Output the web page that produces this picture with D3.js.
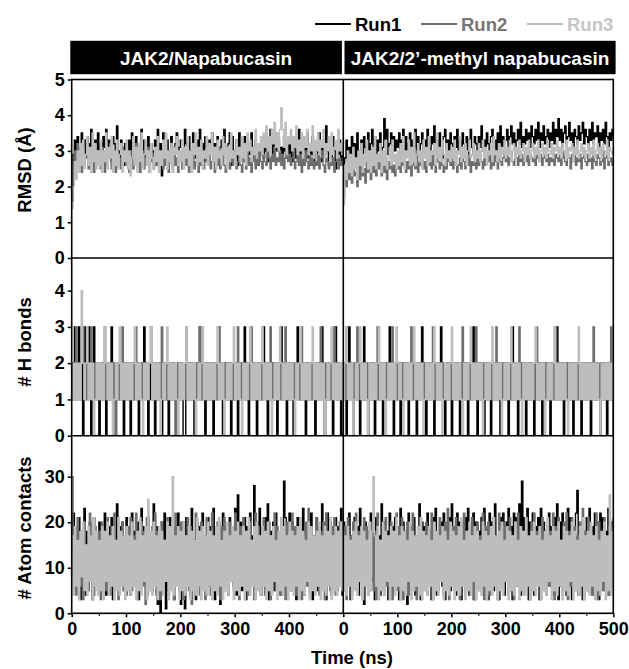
<!doctype html>
<html>
  <head>
    <script src="https://cdnjs.cloudflare.com/ajax/libs/d3/7.8.5/d3.min.js" type="text/JavaScript"></script>
    <style>
      body { margin: 0; background: #fff; }
      text { font-family: "Liberation Sans", Arial, sans-serif; font-weight: bold; }
    </style>
  </head>
  <body>
    <svg width="629" height="669"></svg>
    <script>
        // sampling interval of every trajectory below (ns)
        var STEP_NS = 2.5;

        var systems = ["JAK2/Napabucasin", "JAK2/2\u2019-methyl napabucasin"];
        var runs = ["Run1", "Run2", "Run3"];
        var xTicks = [0, 100, 200, 300, 400, 500];
        var xMinorTicks = [50, 150, 250, 350, 450];
        var rmsdTicks = [0, 1, 2, 3, 4, 5];
        var hbondTicks = [0, 1, 2, 3, 4];
        var contactTicks = [0, 10, 20, 30];

        // ---- RMSD (Å), JAK2/Napabucasin
        var rmsdNapRun1 = [
          1.6,2.9,3.3,2.8,3.4,3.1,2.7,3.5,3.0,3.3,2.8,3.4,3.2,2.9,3.6,3.1,2.8,3.3,3.0,3.5,
          2.9,3.2,2.7,3.4,3.1,3.6,2.8,3.3,3.0,2.7,3.4,3.2,2.9,3.7,3.0,2.8,3.3,3.1,2.6,3.2,
          3.0,2.7,3.3,2.9,3.5,3.1,2.8,3.4,2.6,3.2,3.0,3.6,2.9,3.3,2.7,3.1,3.4,2.8,3.2,3.0,
          2.7,3.3,3.0,3.6,2.8,3.2,2.3,3.5,3.1,2.6,3.3,3.0,2.8,3.4,3.1,2.7,3.2,3.5,2.9,3.1,
          3.3,2.8,3.0,3.6,3.2,2.7,3.4,3.0,2.9,3.5,3.1,2.8,3.3,3.0,3.6,2.9,3.2,2.7,3.4,3.1,
          2.9,3.3,3.0,3.5,2.8,3.2,3.0,3.4,2.7,3.1,3.3,2.9,3.6,3.0,2.8,3.2,3.5,2.6,3.4,3.0,
          2.7,3.3,2.6,3.5,2.8,3.1,2.9,3.4,3.0,2.7,3.2,2.9,3.5,3.1,2.8,3.3,3.0,2.6,3.2,2.9,
          3.1,2.8,3.4,3.0,2.7,3.3,3.6,2.9,3.2,2.8,3.5,3.0,3.3,2.7,3.1,2.9,3.4,3.0,2.8,3.2,
          2.9,3.3,2.7,3.1,3.4,2.8,3.0,3.6,2.9,3.2,2.7,3.3,3.0,3.5,2.8,3.1,2.9,3.4,2.6,3.2,
          3.0,2.8,3.5,3.1,2.7,3.3,2.9,3.7,3.0,2.6,3.2,2.8,3.4,3.0,2.5,3.1,2.9,3.3,2.7,3.0,
          2.8];
        var rmsdNapRun2 = [
          1.8,2.6,3.0,2.5,3.2,2.7,2.9,2.4,3.1,2.6,2.8,3.3,2.5,2.9,2.7,3.1,2.4,2.8,3.0,2.6,
          2.9,2.5,3.1,2.7,2.4,3.0,2.6,2.8,3.2,2.5,2.7,2.9,2.4,3.0,2.6,2.8,2.5,3.1,2.7,2.9,
          2.6,2.9,2.4,2.8,3.0,2.5,2.7,3.2,2.6,2.9,2.4,2.7,3.0,2.5,2.8,2.6,3.1,2.4,2.7,2.9,
          2.5,2.8,2.6,3.0,2.4,2.7,2.9,2.5,3.1,2.6,2.8,2.4,2.7,3.0,2.5,2.9,2.6,2.8,2.4,2.7,
          2.9,2.5,2.7,3.0,2.6,2.8,2.4,2.9,2.6,3.1,2.5,2.7,2.8,2.4,3.0,2.6,2.9,2.5,2.7,2.8,
          2.6,3.0,2.5,2.7,2.9,2.4,2.8,2.6,3.1,2.5,2.7,2.9,2.6,2.4,2.8,3.0,2.5,2.7,2.9,2.6,
          2.8,2.5,2.7,3.0,2.6,2.4,2.9,2.7,2.5,3.1,2.6,2.8,2.4,2.7,2.9,2.5,2.8,2.6,3.0,2.7,
          2.5,2.9,2.7,2.6,3.0,2.8,2.5,2.9,2.7,3.1,2.6,2.8,2.7,3.0,2.6,2.9,2.5,2.8,3.0,2.7,
          2.9,2.6,2.8,3.1,2.5,2.7,3.0,2.6,2.9,2.4,2.8,2.6,3.0,2.7,2.5,2.9,2.6,2.8,2.5,2.7,
          2.6,2.9,2.5,2.8,3.0,2.6,2.4,2.8,2.7,2.5,2.9,2.6,2.8,2.4,2.7,2.9,2.5,2.8,2.6,2.7,
          2.6];
        var rmsdNapRun3 = [
          1.4,2.0,2.7,2.2,3.0,2.4,3.2,2.6,3.3,2.5,2.9,3.4,2.6,3.1,2.4,3.5,2.7,3.2,2.5,3.0,
          2.6,3.3,2.4,3.0,2.7,3.5,2.5,3.1,2.8,3.4,2.4,3.0,2.6,3.3,2.5,2.9,3.2,2.4,3.0,2.7,
          3.3,2.5,3.0,2.3,2.8,3.4,2.6,3.1,2.4,3.2,2.7,3.5,2.5,2.9,3.3,2.6,3.0,2.4,3.2,2.8,
          2.5,3.1,2.7,3.4,2.4,3.0,2.6,3.3,2.8,3.5,2.5,3.0,2.7,3.2,2.4,3.1,2.9,3.4,2.6,3.0,
          2.7,3.3,2.5,3.1,2.8,3.4,2.6,3.0,2.4,3.2,2.9,3.5,2.6,3.1,2.7,3.3,2.5,3.0,2.8,3.4,
          2.6,3.2,2.9,3.5,2.7,3.1,2.5,3.3,2.8,3.0,2.6,3.4,2.9,3.2,2.5,3.1,2.7,3.5,2.8,3.0,
          2.6,3.3,2.9,3.1,2.7,3.4,2.8,3.2,2.6,3.5,3.0,3.3,2.7,3.1,2.9,3.6,2.8,3.2,3.0,3.4,
          2.9,3.5,3.1,3.7,3.0,3.4,2.9,3.6,3.2,3.8,3.1,3.5,3.0,3.6,4.2,3.6,3.1,3.8,2.9,3.4,
          3.2,3.6,3.0,3.4,3.1,3.7,2.9,3.3,3.0,3.5,2.8,3.4,3.1,3.6,2.9,3.2,3.0,3.7,2.8,3.3,
          3.0,3.5,2.9,3.3,3.1,3.6,2.8,3.2,3.0,3.4,2.7,3.5,2.9,3.1,3.3,2.8,3.6,3.0,3.2,2.9,
          3.1];

        // ---- RMSD (Å), JAK2/2'-methyl napabucasin
        var rmsdMetRun1 = [
          2.2,2.8,3.3,2.7,3.1,2.6,3.4,2.9,3.2,2.7,3.5,3.0,2.8,3.3,2.6,3.4,3.1,2.9,3.5,2.8,
          3.2,3.6,2.9,3.4,2.8,3.3,3.0,3.5,2.7,3.1,3.9,3.3,3.6,2.9,3.2,3.5,2.8,3.4,3.0,3.3,
          3.1,3.5,2.8,3.3,3.6,3.0,3.4,2.9,3.2,3.5,2.8,3.3,3.1,3.6,2.9,3.4,3.0,3.2,3.5,2.9,
          3.3,3.0,3.6,3.1,2.8,3.4,3.2,3.7,2.9,3.3,3.0,3.5,3.1,2.8,3.4,3.6,3.0,3.3,2.9,3.5,
          3.2,2.9,3.4,3.1,3.6,3.0,3.3,2.8,3.5,3.2,3.0,3.4,2.9,3.3,3.6,3.1,2.9,3.4,3.2,3.0,
          3.4,3.1,3.7,3.0,3.3,2.9,3.5,3.2,3.0,3.4,3.6,3.1,3.3,2.9,3.5,3.2,3.7,3.0,3.4,3.1,
          3.3,3.6,3.1,3.4,3.7,3.2,3.5,3.0,3.3,3.6,3.2,3.8,3.1,3.4,3.2,3.6,3.3,3.5,3.1,3.7,
          3.4,3.2,3.6,3.3,3.8,3.1,3.5,3.3,3.7,3.2,3.4,3.6,3.1,3.5,3.3,3.8,3.2,3.6,3.4,3.9,
          3.3,3.6,3.1,3.5,3.7,3.2,3.4,3.8,3.3,3.5,3.1,3.6,3.4,3.2,3.7,3.3,3.5,3.8,3.2,3.6,
          3.4,3.1,3.6,3.3,3.8,3.2,3.5,3.4,3.7,3.1,3.5,3.3,3.6,3.2,3.8,3.4,3.1,3.5,3.3,3.6,
          3.4];
        var rmsdMetRun2 = [
          1.7,2.3,2.0,2.6,2.2,2.5,2.1,2.7,2.3,2.4,2.0,2.6,2.2,2.8,2.3,2.5,2.1,2.7,2.4,2.6,
          2.2,2.8,2.4,2.6,2.3,2.9,2.5,2.7,2.3,2.6,2.4,2.8,2.2,2.7,2.5,2.9,2.4,2.6,2.3,2.8,
          2.5,2.7,2.4,3.0,2.6,2.8,2.4,2.7,2.5,2.9,2.3,2.6,2.8,2.5,3.0,2.4,2.7,2.6,2.9,2.5,
          2.7,2.4,2.9,2.6,2.8,2.5,3.0,2.6,2.4,2.8,2.7,2.5,2.9,2.6,2.4,2.8,2.5,3.0,2.7,2.6,
          2.8,2.5,2.7,2.9,2.4,2.6,2.8,2.5,3.0,2.7,2.5,2.8,2.6,2.9,2.4,2.7,2.6,2.9,2.5,2.8,
          2.6,2.9,2.7,2.5,3.0,2.6,2.8,2.7,2.9,2.5,2.8,2.6,3.0,2.7,2.5,2.9,2.7,2.6,2.8,3.0,
          2.7,2.9,2.6,2.8,3.0,2.7,2.6,2.9,2.8,2.6,3.0,2.7,2.9,2.6,2.8,2.7,3.0,2.6,2.9,2.8,
          2.7,2.9,2.6,3.0,2.8,2.7,2.9,2.6,2.8,3.0,2.7,2.9,2.6,2.8,2.7,3.0,2.6,2.9,2.8,2.7,
          2.9,2.6,2.8,3.0,2.7,2.6,2.9,2.8,2.5,2.9,2.7,3.0,2.6,2.8,2.7,2.9,2.5,2.8,3.0,2.7,
          2.6,2.9,2.7,2.8,2.5,3.0,2.7,2.6,2.9,2.8,2.6,2.7,3.0,2.5,2.8,2.9,2.6,2.7,2.8,2.6,
          2.7];
        var rmsdMetRun3 = [
          1.5,2.6,2.2,3.0,2.4,2.9,2.3,3.1,2.5,2.8,2.2,3.0,2.6,3.2,2.4,2.9,2.7,3.3,2.5,3.0,
          2.4,3.1,2.6,3.4,2.5,2.9,2.7,3.2,2.4,3.0,2.6,3.3,2.5,2.8,3.1,2.6,3.3,2.7,2.9,2.5,
          3.0,2.6,3.2,2.7,3.4,2.5,3.0,2.8,3.3,2.6,3.1,2.7,3.5,2.6,2.9,3.2,2.7,3.0,2.5,3.3,
          2.8,3.1,2.6,3.4,2.7,3.0,2.9,3.2,2.6,3.5,2.8,3.1,2.7,3.3,2.9,2.6,3.2,2.8,3.0,2.7,
          3.1,2.8,3.3,2.6,3.0,2.9,3.4,2.7,3.1,2.8,3.2,2.6,3.0,3.3,2.8,2.9,3.2,2.7,3.0,2.8,
          3.2,2.7,3.0,3.3,2.8,3.1,2.6,3.0,2.9,3.2,2.7,3.4,2.9,3.0,2.7,3.2,2.8,3.1,2.9,3.3,
          2.8,3.1,2.9,3.3,2.7,3.0,3.2,2.8,3.1,2.9,3.3,2.8,3.0,3.2,2.7,3.1,2.9,3.3,2.8,3.0,
          3.2,2.8,3.1,2.9,3.3,2.7,3.0,3.2,2.9,3.1,2.8,3.3,3.0,2.9,3.2,2.8,3.1,3.0,3.3,2.9,
          3.1,2.8,3.2,3.0,2.9,3.3,2.8,3.1,3.0,3.2,2.7,3.1,2.9,3.3,2.8,3.0,3.2,2.9,3.1,2.8,
          3.0,3.2,2.8,3.1,2.9,3.3,2.8,3.0,3.2,2.9,3.1,2.8,3.2,3.0,2.9,3.3,2.8,3.1,3.0,2.9,
          3.0];

        // ---- # H bonds, JAK2/Napabucasin
        var hbondNapRun1 = [
          2,1,3,1,2,3,1,2,0,3,1,2,3,1,0,2,3,1,2,1,
          0,1,2,1,2,0,1,2,1,3,1,2,0,1,2,1,2,1,0,2,
          1,2,1,0,2,1,2,1,2,0,1,2,1,3,2,1,0,2,1,2,
          1,0,2,1,2,1,0,1,2,1,2,0,1,2,1,2,1,0,2,1,
          2,1,0,0,1,2,1,2,1,2,0,1,2,1,3,1,2,1,0,2,
          1,2,1,2,0,1,2,1,3,2,1,0,2,1,2,1,2,0,1,2,
          1,2,0,1,2,1,2,3,1,2,0,1,2,1,2,1,0,2,1,2,
          1,3,2,1,0,2,1,2,1,2,1,0,2,1,3,1,2,1,0,1,
          2,1,2,0,1,2,3,1,2,1,2,1,0,2,1,2,1,2,1,0,
          2,1,2,1,3,2,0,1,2,1,2,1,0,2,3,1,2,1,0,2,
          1];
        var hbondNapRun2 = [
          2,1,2,3,1,2,1,2,3,1,2,1,2,1,3,2,1,2,1,2,
          1,2,1,2,3,1,2,1,2,1,2,1,0,2,1,2,1,3,2,1,
          2,1,2,1,2,1,2,3,1,2,1,2,1,2,1,2,1,2,3,1,
          2,1,2,1,2,1,3,2,1,2,1,2,1,2,1,2,0,1,2,1,
          2,1,2,1,3,2,1,2,1,2,1,2,1,2,3,1,2,1,2,1,
          2,1,2,1,2,1,2,1,3,2,1,2,1,2,1,2,1,2,1,2,
          1,2,3,1,2,1,2,1,2,1,2,1,3,2,1,2,1,2,1,2,
          1,2,1,2,1,2,3,1,2,1,2,1,2,1,2,1,2,3,1,2,
          1,2,1,2,1,2,1,2,1,3,2,1,2,1,2,1,2,1,2,1,
          2,1,2,3,1,2,1,2,1,2,1,2,1,3,2,1,2,1,2,1,
          2];
        var hbondNapRun3 = [
          1,2,1,2,1,2,1,4,2,1,2,3,1,2,1,2,0,1,2,1,
          2,1,2,1,3,2,1,2,1,2,0,1,2,1,2,3,1,2,1,2,
          1,2,1,2,1,2,3,1,2,1,2,1,0,2,1,2,1,2,3,1,
          2,1,2,1,2,0,1,2,1,2,3,1,2,1,2,1,2,1,0,2,
          1,2,1,2,3,1,2,1,2,1,2,0,1,2,1,2,3,1,2,1,
          2,1,2,1,2,1,2,3,1,2,1,2,0,1,2,1,2,1,2,3,
          1,2,1,2,1,0,2,1,2,1,2,3,1,2,1,2,1,2,1,2,
          3,1,2,1,2,1,2,0,1,2,1,2,1,3,2,1,2,1,2,1,
          2,1,2,1,0,2,1,2,3,1,2,1,2,1,2,1,2,3,1,2,
          1,2,1,2,1,2,0,1,2,1,2,3,1,2,1,2,1,2,1,2,
          1];

        // ---- # H bonds, JAK2/2'-methyl napabucasin
        var hbondMetRun1 = [
          1,2,0,1,3,2,1,0,2,1,2,1,0,2,1,3,1,2,0,1,
          2,1,2,0,1,2,1,2,1,0,2,1,2,1,3,2,1,0,1,2,
          1,2,0,2,1,2,1,2,0,1,2,1,2,1,0,2,1,2,3,1,
          2,0,1,2,1,2,1,0,2,1,2,1,3,2,1,0,1,2,1,2,
          0,1,2,1,2,1,0,2,1,2,1,2,0,1,2,1,3,2,1,0,
          2,1,2,1,0,2,1,2,1,0,1,2,1,2,1,2,0,1,2,1,
          2,1,0,2,1,3,1,2,1,0,2,1,2,1,2,0,1,2,1,2,
          1,0,2,1,2,1,2,0,1,2,1,2,1,0,2,1,2,1,3,1,
          2,1,2,0,1,2,1,2,1,2,0,1,2,1,2,1,0,2,1,2,
          1,2,1,0,2,1,2,1,2,1,0,2,1,2,1,0,2,1,2,1,
          0];
        var hbondMetRun2 = [
          2,1,3,2,1,2,1,2,1,2,3,1,2,1,2,1,2,1,2,1,
          2,1,2,1,2,3,1,2,1,2,1,2,1,2,1,2,3,1,2,1,
          2,1,2,1,2,1,2,1,2,1,3,2,1,2,1,2,1,2,1,2,
          1,2,1,2,1,2,3,1,2,1,2,1,2,1,2,1,2,1,2,1,
          2,1,2,1,2,1,2,1,3,2,1,2,1,2,1,2,1,2,3,1,
          2,1,2,1,2,1,2,1,2,1,2,1,2,3,1,2,1,2,1,2,
          1,2,1,2,1,2,1,2,1,2,3,1,2,1,2,1,2,1,2,1,
          2,1,2,3,1,2,1,2,1,2,1,2,1,2,1,2,1,3,2,1,
          2,1,2,1,2,1,2,1,2,1,2,1,2,1,2,1,2,1,2,1,
          2,1,2,1,2,3,1,2,1,2,1,2,1,2,1,2,1,2,3,1,
          2];
        var hbondMetRun3 = [
          1,2,3,1,2,1,2,0,1,2,1,2,3,1,2,1,2,1,0,2,
          1,2,1,2,1,2,3,1,2,1,2,0,1,2,1,2,1,2,1,3,
          2,1,2,1,0,2,1,2,1,2,1,2,3,1,2,1,2,1,2,0,
          1,2,1,2,1,2,1,3,2,1,2,1,2,0,1,2,1,2,1,2,
          3,1,2,1,2,1,2,1,0,2,1,2,1,2,3,1,2,1,2,1,
          2,1,2,0,1,2,1,2,1,2,3,1,2,1,2,1,2,0,1,2,
          1,2,1,2,3,1,2,1,2,1,2,1,0,2,1,2,1,2,1,2,
          1,2,3,1,2,1,2,1,2,0,1,2,1,2,1,2,3,1,2,1,
          2,1,2,1,2,1,0,2,1,2,1,2,1,2,3,1,2,1,2,1,
          2,1,2,1,2,1,2,1,2,1,0,2,1,2,1,2,1,2,1,2,
          1];

        // ---- # Atom contacts, JAK2/Napabucasin
        var contactNapRun1 = [
          14,22,5,19,8,21,3,17,10,23,4,18,7,20,12,3,21,9,16,5,
          20,6,18,11,22,4,15,19,7,21,3,16,12,24,6,19,9,20,5,17,
          21,8,14,4,22,10,18,6,20,3,16,23,7,19,11,4,21,8,17,5,
          24,9,19,2,16,0,20,7,22,1,18,5,21,10,15,3,19,8,22,6,
          2,17,20,1,21,7,18,4,23,9,16,3,20,11,19,5,22,8,17,4,
          21,6,19,10,23,3,18,7,20,2,16,22,5,19,12,4,21,8,18,6,
          23,4,26,8,20,5,18,21,3,19,10,22,7,17,28,5,20,9,23,4,
          19,8,21,6,24,3,18,11,20,5,22,7,16,8,4,19,29,21,6,18,
          22,5,20,8,17,3,21,10,19,6,23,4,18,12,20,7,22,3,17,9,
          21,5,19,8,24,6,18,3,22,10,20,4,17,9,21,5,19,7,23,4,
          18];
        var contactNapRun2 = [
          30,8,19,4,21,11,6,18,3,20,9,15,5,22,7,17,4,19,10,6,
          18,3,20,8,16,5,21,12,4,19,7,22,6,14,3,18,9,20,5,17,
          4,19,10,21,5,17,8,22,3,15,11,20,6,18,2,21,9,16,5,19,
          7,22,4,18,10,3,20,6,16,12,21,4,19,8,17,3,22,7,18,5,
          20,9,3,17,11,21,5,19,2,16,8,22,6,18,4,20,10,15,3,21,
          7,18,4,22,9,16,5,20,11,3,19,8,21,6,17,4,20,10,18,5,
          22,6,17,3,19,9,21,5,18,12,4,20,7,16,3,22,8,19,5,17,
          10,21,4,18,6,20,3,17,9,22,5,19,11,4,21,7,18,3,20,8,
          16,5,22,9,19,4,18,7,21,3,17,10,20,6,23,4,19,8,16,5,
          21,9,4,18,7,20,3,22,10,17,5,19,8,21,4,16,11,20,6,18,
          5];
        var contactNapRun3 = [
          17,4,19,6,16,3,18,8,20,5,15,4,19,7,17,3,21,6,18,4,
          16,5,19,3,18,7,20,4,17,6,19,3,16,5,21,4,18,6,17,3,
          19,5,17,4,20,6,16,3,18,5,21,4,17,7,19,3,25,5,18,4,
          20,6,17,3,19,5,18,4,16,7,20,3,19,5,30,4,17,6,19,3,
          18,5,20,4,17,6,19,3,18,5,16,4,21,6,18,3,19,5,17,4,
          20,6,18,3,17,5,19,4,21,6,16,3,18,5,20,4,17,7,19,3,
          18,5,20,4,17,6,19,3,18,5,21,4,16,6,19,3,20,5,17,4,
          19,6,18,3,20,5,17,4,19,7,16,3,18,5,21,4,19,6,17,3,
          20,5,18,4,17,6,19,3,21,5,18,4,16,7,20,3,19,5,17,4,
          18,6,20,3,17,5,19,4,18,6,21,3,17,5,19,4,18,6,20,5,
          17];

        // ---- # Atom contacts, JAK2/2'-methyl napabucasin
        var contactMetRun1 = [
          20,5,18,9,22,3,17,11,21,6,19,4,23,8,16,2,20,10,18,5,
          22,7,19,3,21,9,17,4,24,6,20,11,18,3,22,8,19,5,21,7,
          17,3,23,9,20,5,18,2,22,10,19,6,21,4,17,8,24,3,20,7,
          19,5,22,10,18,3,21,7,23,4,16,9,20,6,22,3,19,8,21,5,
          24,7,18,4,22,9,20,3,17,11,21,6,23,4,19,8,22,3,20,6,
          18,9,21,4,23,7,19,3,22,10,20,5,24,8,17,3,21,6,22,4,
          20,8,23,5,19,3,22,9,21,6,24,4,29,10,21,7,23,3,20,6,
          22,4,19,9,21,3,23,7,20,5,18,11,22,6,19,4,21,8,24,3,
          20,6,22,9,18,4,23,7,21,3,19,10,22,27,4,8,20,3,18,7,
          21,5,23,9,19,4,22,6,20,3,22,8,21,5,18,10,23,4,20,6,
          21];
        var contactMetRun2 = [
          6,19,3,21,8,17,4,20,10,22,5,18,7,16,3,21,9,19,4,17,
          8,20,5,18,3,22,7,16,11,19,4,21,6,17,9,20,3,18,10,22,
          5,19,7,21,3,17,10,20,4,18,8,22,6,16,3,19,11,21,5,17,
          9,20,4,18,7,22,3,19,10,16,5,21,8,17,4,20,6,23,3,18,
          10,19,5,21,7,17,3,20,9,22,4,18,6,16,11,21,3,19,8,20,
          5,17,9,22,3,19,7,20,4,18,10,21,6,16,3,22,8,19,5,20,
          7,18,4,21,9,17,3,20,6,22,10,19,5,18,4,21,8,16,3,20,
          9,22,5,18,7,19,3,21,10,17,4,20,6,18,8,22,3,19,5,21,
          7,16,4,20,9,22,3,18,6,21,10,19,5,17,4,20,8,23,3,18,
          6,21,9,19,4,17,7,22,3,20,10,18,5,21,8,16,4,19,6,20,
          9];
        var contactMetRun3 = [
          5,17,4,19,6,16,3,18,5,20,4,17,7,19,3,18,6,16,4,20,
          5,18,30,17,6,19,3,16,5,20,4,18,7,17,3,19,6,18,4,21,
          6,17,3,19,5,18,4,16,7,20,3,18,5,17,6,19,4,21,3,18,
          5,17,4,19,6,16,3,20,5,18,4,17,7,19,3,18,5,16,4,20,
          6,18,3,17,5,19,4,21,6,16,3,18,5,20,4,17,7,19,3,18,
          5,16,4,20,6,18,3,17,5,19,4,21,6,17,3,18,5,20,4,16,
          7,19,3,18,5,17,4,20,6,16,3,19,5,18,4,21,6,17,3,18,
          5,20,4,17,6,19,3,16,5,18,4,21,7,17,3,19,5,18,4,20,
          6,16,3,19,5,18,4,17,7,20,3,18,5,16,4,19,6,21,3,17,
          5,18,4,20,6,17,3,19,5,16,4,18,7,20,3,17,5,26,4,18,
          6];

        // ---------------------------------------------------------------
        var runColors = ["#000000", "#6e6e6e", "#bdbdbd"];
        var legendTextColors = ["#000000", "#7a7474", "#c6c6c6"];

        var plotLeft = 71.7, plotMid = 343.3, plotRight = 613.3;

        var panels = [
          { title: "RMSD (\u00c5)", domain: [0, 5], ticks: rmsdTicks, top: 79.5, bottom: 258, titleY: 170,
            series: [[rmsdNapRun1, rmsdNapRun2, rmsdNapRun3], [rmsdMetRun1, rmsdMetRun2, rmsdMetRun3]] },
          { title: "# H bonds", domain: [0, 4.9], ticks: hbondTicks, top: 258, bottom: 435.7, titleY: 342,
            series: [[hbondNapRun1, hbondNapRun2, hbondNapRun3], [hbondMetRun1, hbondMetRun2, hbondMetRun3]] },
          { title: "# Atom contacts", domain: [0, 39], ticks: contactTicks, top: 435.7, bottom: 613.3, titleY: 528,
            series: [[contactNapRun1, contactNapRun2, contactNapRun3], [contactMetRun1, contactMetRun2, contactMetRun3]] }
        ];

        var svg = d3.select("svg");

        var xScales = [
          d3.scaleLinear().domain([0, 500]).range([plotLeft, plotMid]),
          d3.scaleLinear().domain([0, 500]).range([plotMid, plotRight])
        ];

        var defs = svg.append("defs");

        panels.forEach(function(p, pi){
            var yScale = d3.scaleLinear().domain(p.domain).range([p.bottom, p.top]);

            xScales.forEach(function(xScale, si){
                var clipId = "clip" + pi + "_" + si;
                defs.append("clipPath").attr("id", clipId)
                  .append("rect")
                    .attr("x", xScale.range()[0])
                    .attr("y", p.top)
                    .attr("width", xScale.range()[1] - xScale.range()[0])
                    .attr("height", p.bottom - p.top);

                // frames are plotted as steps so every jump is a thin vertical stroke
                var line = d3.line()
                  .curve(d3.curveStepAfter)
                  .x((d, i) => xScale(i * STEP_NS))
                  .y(d => yScale(d));

                svg.append("g")
                    .attr("clip-path", "url(#" + clipId + ")")
                  .selectAll("path")
                  .data(p.series[si])
                  .enter()
                  .append("path")
                    .attr("d", line)
                    .attr("fill", "none")
                    .attr("stroke", (d, i) => runColors[i])
                    .attr("stroke-width", 1.4);
            });

            var yAxis = d3.axisLeft(yScale)
              .tickValues(p.ticks)
              .tickFormat(d3.format("d"))
              .tickSize(4)
              .tickPadding(3);

            var gy = svg.append("g")
                .attr("transform", "translate(" + plotLeft + ",0)")
                .call(yAxis);
            gy.select(".domain").remove();
            gy.selectAll("line").attr("stroke-width", 1.5);
            gy.selectAll("text")
                .attr("font-size", 18)
                .attr("font-family", "Liberation Sans, Arial, sans-serif")
                .attr("font-weight", "bold")
                .attr("fill", "#000");

            svg.append("text")
                .attr("transform", "translate(31," + p.titleY + ") rotate(-90)")
                .attr("text-anchor", "middle")
                .attr("font-size", 18.5)
                .text(p.title);
        });

        // x axes (one per system)
        xScales.forEach(function(xScale, si){
            var major = d3.axisBottom(xScale)
              .tickValues(si == 0 ? xTicks.slice(0, 5) : xTicks)
              .tickSize(4)
              .tickPadding(5);
            var gx = svg.append("g")
                .attr("transform", "translate(0," + plotRight + ")")
                .call(major);
            gx.select(".domain").remove();
            gx.selectAll("line").attr("stroke-width", 1.5);
            gx.selectAll("text")
                .attr("font-size", 18)
                .attr("font-family", "Liberation Sans, Arial, sans-serif")
                .attr("font-weight", "bold")
                .attr("fill", "#000");

            var minor = d3.axisBottom(xScale)
              .tickValues(xMinorTicks)
              .tickSize(2.5)
              .tickFormat("");
            var gm = svg.append("g")
                .attr("transform", "translate(0," + plotRight + ")")
                .call(minor);
            gm.select(".domain").remove();
            gm.selectAll("line").attr("stroke-width", 1.2);
        });

        // frame, panel separators and system divider
        var frame = svg.append("g").attr("stroke", "#000").attr("stroke-width", 1.6).attr("fill", "none");
        frame.append("rect")
            .attr("x", plotLeft).attr("y", panels[0].top)
            .attr("width", plotRight - plotLeft).attr("height", panels[2].bottom - panels[0].top);
        panels.slice(1).forEach(function(p){
            frame.append("line")
                .attr("x1", plotLeft).attr("x2", plotRight)
                .attr("y1", p.top).attr("y2", p.top);
        });
        frame.append("line")
            .attr("x1", plotMid).attr("x2", plotMid)
            .attr("y1", panels[0].top).attr("y2", panels[2].bottom);

        // system header boxes
        var headers = [[70.3, 341.9], [344.5, 615.6]];
        headers.forEach(function(h, si){
            svg.append("rect")
                .attr("x", h[0]).attr("y", 40.8)
                .attr("width", h[1] - h[0]).attr("height", 33.4)
                .attr("fill", "#000");
            svg.append("text")
                .attr("x", (h[0] + h[1]) / 2).attr("y", 64.5)
                .attr("text-anchor", "middle")
                .attr("fill", "#fff")
                .attr("font-size", 19)
                .text(systems[si]);
        });

        // legend
        var legendX = [315, 421, 527];
        runs.forEach(function(r, i){
            svg.append("line")
                .attr("x1", legendX[i]).attr("x2", legendX[i] + 36)
                .attr("y1", 24).attr("y2", 24)
                .attr("stroke", runColors[i])
                .attr("stroke-width", 2.2);
            svg.append("text")
                .attr("x", legendX[i] + 40).attr("y", 30.5)
                .attr("fill", legendTextColors[i])
                .attr("font-size", 18.5)
                .text(r);
        });

        svg.append("text")
            .attr("x", 352).attr("y", 664)
            .attr("text-anchor", "middle")
            .attr("font-size", 18.5)
            .text("Time (ns)");
    </script>
  </body>
</html>
